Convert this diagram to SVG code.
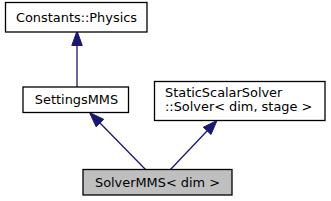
<svg xmlns="http://www.w3.org/2000/svg" width="331" height="201" viewBox="0 0 331 201">
<defs>
<style>
.n{fill:#fff;stroke:#000;stroke-width:1.3}
.h{fill:#bfbfbf;stroke:#000;stroke-width:1.3}
text{font-family:"DejaVu Sans",sans-serif;font-size:12.9px;fill:#000}
.e{stroke:#191970;stroke-width:1.3;fill:none}
.a{fill:#191970;stroke:#191970}
</style>
</defs>
<rect width="331" height="201" fill="#fff"/>
<g id="edges">
<path class="e" d="M77,87 L77,45"/>
<polygon class="a" points="82.3,45.5 77,31 71.8,45.5"/>
<path class="e" d="M146,170 L100,123"/>
<polygon class="a" points="103.7,119.3 89.5,112.5 96.1,126.8"/>
<path class="e" d="M170,170 L207,131"/>
<polygon class="a" points="203.3,127.2 217,120.5 211.0,134.5"/>
</g>
<g id="node_constants">
<rect class="n" x="5.5" y="2.5" width="141.5" height="29.5"/>
<text x="76.5" y="22" text-anchor="middle">Constants::Physics</text>
</g>
<g id="node_settings">
<rect class="n" x="23" y="87" width="105.5" height="25.5"/>
<text x="76.5" y="104" text-anchor="middle">SettingsMMS</text>
</g>
<g id="node_static">
<rect class="n" x="154.5" y="81.5" width="170.5" height="39"/>
<text x="165" y="97">StaticScalarSolver</text>
<text x="165" y="111">::Solver&lt; dim, stage &gt;</text>
</g>
<g id="node_solver">
<rect class="h" x="83" y="169.5" width="149" height="25.5"/>
<text x="157.5" y="187" text-anchor="middle">SolverMMS&lt; dim &gt;</text>
</g>
</svg>
